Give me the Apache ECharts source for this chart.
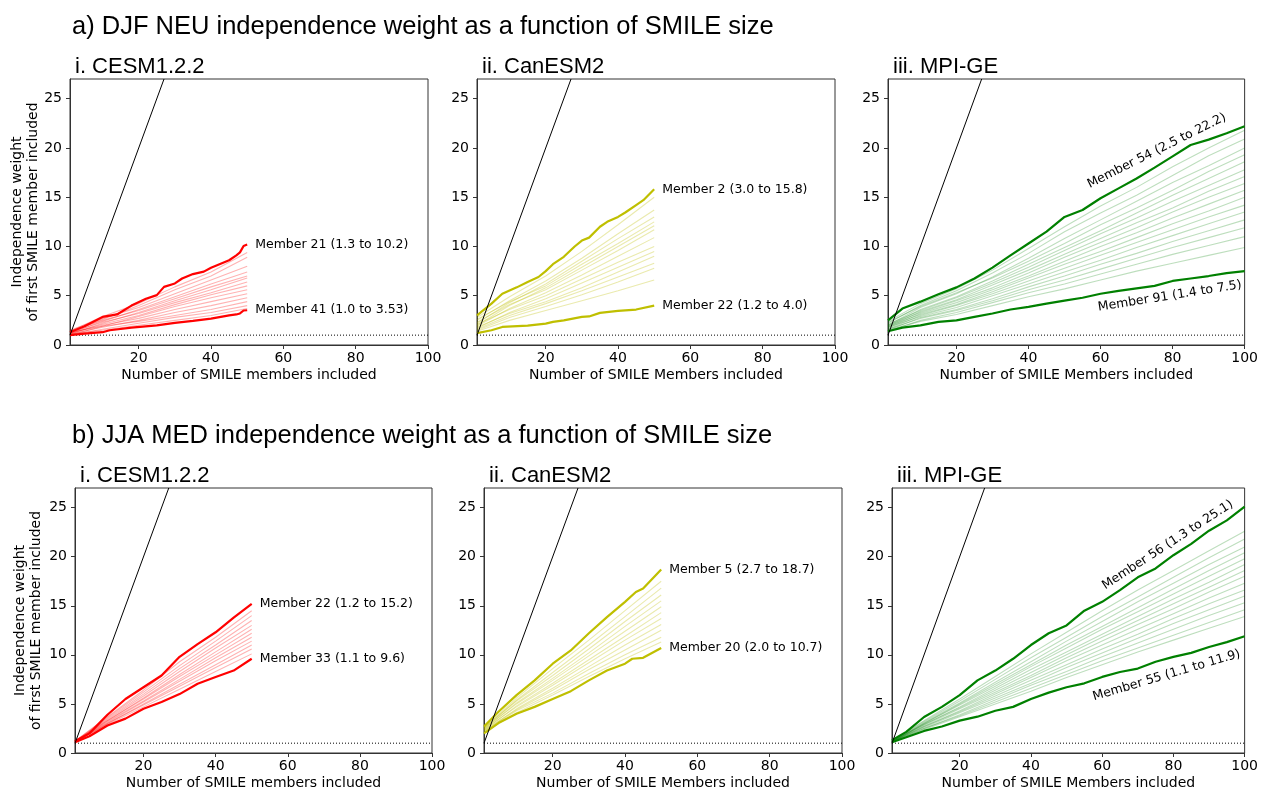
<!DOCTYPE html>
<html>
<head>
<meta charset="utf-8">
<script src="https://cdn.jsdelivr.net/npm/echarts@6/dist/echarts.min.js"></script>
<style>html,body{margin:0;padding:0;background:#fff}#c{width:1261px;height:791px}</style>
</head>
<body>
<div id="c"></div>
<script>
// ---------- DATA ----------
const rowTitles = ['a) DJF NEU independence weight as a function of SMILE size',
                   'b) JJA MED independence weight as a function of SMILE size'];
const panelTitles = ['i. CESM1.2.2', 'ii. CanESM2', 'iii. MPI-GE'];
const xNames = ['Number of SMILE members included', 'Number of SMILE Members included', 'Number of SMILE Members included'];
const yNameLines = ['Independence weight', 'of first SMILE member included'];
const xTicks = [20, 40, 60, 80, 100];
const yTicks = [0, 5, 10, 15, 20, 25];
const oneToOne = [[1, 1], [27, 27]];
const refLine = [[1, 1], [100, 1]];

const x50 = [1, 10, 20, 30, 40, 50];
const x100 = [1, 10, 20, 30, 40, 50, 60, 70, 80, 90, 100];
const x5to50 = [1, 5, 10, 15, 20, 25, 30, 35, 40, 45, 50];
const x5to100 = [1, 5, 10, 15, 20, 25, 30, 35, 40, 45, 50, 55, 60, 65, 70, 75, 80, 85, 90, 95, 100];

// a-i CESM1.2.2 DJF NEU
const aCesmThin = [
  [1.4, 2.9, 4.2, 5.9, 7.4, 9.4],
  [1.3, 2.6, 4.0, 5.6, 7.0, 8.9],
  [1.5, 2.7, 3.8, 5.2, 6.6, 8.0],
  [1.2, 2.4, 3.6, 4.9, 6.2, 7.4],
  [1.4, 2.5, 3.5, 4.7, 5.9, 7.0],
  [1.1, 2.2, 3.3, 4.5, 5.6, 6.8],
  [1.3, 2.3, 3.2, 4.3, 5.3, 6.4],
  [1.2, 2.1, 3.0, 4.1, 5.1, 6.0],
  [1.0, 1.9, 2.9, 3.9, 4.8, 5.6],
  [1.2, 2.0, 2.7, 3.6, 4.4, 5.2],
  [1.1, 1.8, 2.5, 3.3, 4.0, 4.8],
  [1.3, 1.9, 2.4, 3.0, 3.6, 4.4],
  [1.0, 1.6, 2.2, 2.8, 3.3, 4.0],
  [1.1, 1.5, 2.0, 2.5, 3.0, 3.7]
];
const aCesmM21X = [1, 5, 10, 14, 18, 22, 25, 27, 30, 32, 35, 38, 40, 43, 45, 47, 48, 49, 50];
const aCesmM21Y = [1.3, 1.9, 2.85, 3.1, 4.0, 4.7, 5.06, 5.9, 6.25, 6.75, 7.2, 7.45, 7.85, 8.3, 8.6, 9.1, 9.4, 10.05, 10.2];
const aCesmM41X = [1, 5, 10, 12, 18, 25, 30, 35, 40, 45, 47, 48, 49, 50];
const aCesmM41Y = [1.0, 1.15, 1.3, 1.5, 1.77, 2.0, 2.24, 2.45, 2.68, 3.0, 3.1, 3.2, 3.5, 3.53];

// a-ii CanESM2 DJF NEU
const aCanThin = [
  [2.8, 4.9, 7.0, 9.5, 12.2, 15.0],
  [2.5, 4.5, 6.5, 8.8, 11.3, 13.7],
  [2.2, 4.3, 6.2, 8.5, 10.8, 13.0],
  [2.6, 4.4, 6.0, 8.2, 10.3, 12.5],
  [2.0, 4.0, 5.8, 7.9, 10.0, 12.1],
  [2.3, 4.1, 5.6, 7.6, 9.6, 11.7],
  [1.9, 3.7, 5.3, 7.1, 9.0, 10.9],
  [2.1, 3.6, 5.0, 6.7, 8.4, 10.0],
  [1.7, 3.3, 4.7, 6.3, 7.9, 9.5],
  [1.8, 3.2, 4.4, 5.8, 7.4, 9.0],
  [1.6, 3.0, 4.2, 5.5, 6.9, 8.3],
  [1.5, 2.8, 3.9, 5.1, 6.4, 7.8],
  [1.4, 2.5, 3.5, 4.5, 5.5, 6.6]
];
const aCanM2X = [1, 5, 8, 12, 15, 18, 20, 22, 25, 28, 30, 32, 35, 37, 40, 42, 45, 47, 50];
const aCanM2Y = [3.0, 4.2, 5.2, 5.85, 6.4, 6.9, 7.5, 8.2, 8.95, 10.0, 10.6, 10.9, 12.0, 12.5, 13.0, 13.45, 14.2, 14.7, 15.8];
const aCanM22X = [1, 5, 8, 15, 20, 22, 25, 30, 32, 35, 40, 45, 50];
const aCanM22Y = [1.2, 1.5, 1.83, 1.97, 2.17, 2.35, 2.5, 2.85, 2.9, 3.26, 3.46, 3.6, 4.0];

// a-iii MPI-GE DJF NEU
const aMpiThin = [
  [2.4, 4.2, 5.7, 7.6, 9.8, 12.0, 14.1, 16.0, 18.1, 20.0, 21.8],
  [2.2, 4.0, 5.5, 7.3, 9.3, 11.5, 13.4, 15.2, 17.2, 19.2, 20.9],
  [2.0, 3.8, 5.2, 6.9, 8.8, 10.8, 12.7, 14.6, 16.5, 18.2, 20.0],
  [2.3, 3.9, 5.3, 6.8, 8.5, 10.3, 12.2, 13.9, 15.7, 17.6, 19.3],
  [1.9, 3.6, 4.9, 6.5, 8.2, 9.9, 11.6, 13.4, 15.2, 16.9, 18.6],
  [2.1, 3.5, 4.8, 6.3, 7.9, 9.6, 11.3, 12.9, 14.6, 16.2, 17.8],
  [1.8, 3.4, 4.6, 6.1, 7.6, 9.2, 10.8, 12.4, 13.9, 15.6, 17.1],
  [2.0, 3.3, 4.5, 5.8, 7.3, 8.9, 10.4, 11.9, 13.5, 15.0, 16.4],
  [1.7, 3.2, 4.3, 5.6, 7.0, 8.5, 10.0, 11.4, 12.9, 14.3, 15.7],
  [1.9, 3.1, 4.1, 5.4, 6.8, 8.2, 9.5, 10.9, 12.3, 13.6, 15.0],
  [1.6, 3.0, 4.0, 5.2, 6.5, 7.8, 9.1, 10.4, 11.7, 13.0, 14.2],
  [1.8, 2.9, 3.8, 5.0, 6.2, 7.4, 8.6, 9.9, 11.1, 12.3, 13.5],
  [1.5, 2.8, 3.6, 4.7, 5.9, 7.0, 8.2, 9.3, 10.5, 11.6, 12.7],
  [1.6, 2.7, 3.5, 4.5, 5.6, 6.6, 7.7, 8.8, 9.9, 10.9, 11.9],
  [1.4, 2.5, 3.3, 4.3, 5.3, 6.2, 7.2, 8.2, 9.2, 10.1, 11.0],
  [1.5, 2.4, 3.1, 4.0, 4.9, 5.7, 6.6, 7.5, 8.3, 9.1, 9.9]
];
const aMpiM54Y = [2.5, 3.7, 4.4, 5.15, 5.85, 6.75, 7.85, 9.1, 10.3, 11.5, 13.0, 13.7, 14.9, 15.9, 16.9, 18.0, 19.15, 20.3, 20.85, 21.5, 22.2];
const aMpiM91Y = [1.4, 1.77, 2.0, 2.35, 2.5, 2.85, 3.2, 3.6, 3.87, 4.2, 4.5, 4.8, 5.2, 5.5, 5.75, 6.0, 6.5, 6.75, 7.0, 7.3, 7.5];

// b-i CESM1.2.2 JJA MED
const bCesmThin = [
  [1.2, 3.7, 6.4, 9.3, 11.8, 14.5],
  [1.2, 3.6, 6.2, 8.9, 11.4, 14.0],
  [1.1, 3.5, 6.0, 8.6, 11.0, 13.5],
  [1.2, 3.4, 5.8, 8.3, 10.7, 13.0],
  [1.1, 3.3, 5.6, 8.0, 10.3, 12.6],
  [1.2, 3.3, 5.5, 7.8, 10.0, 12.2],
  [1.1, 3.2, 5.3, 7.5, 9.7, 11.8],
  [1.2, 3.1, 5.2, 7.3, 9.4, 11.4],
  [1.1, 3.0, 5.0, 7.0, 9.0, 11.0],
  [1.1, 3.0, 4.9, 6.8, 8.7, 10.6],
  [1.1, 2.9, 4.7, 6.5, 8.3, 10.1]
];
const bCesmM22Y = [1.2, 2.0, 3.9, 5.5, 6.7, 7.9, 9.8, 11.1, 12.3, 13.8, 15.2];
const bCesmM33Y = [1.1, 1.7, 2.8, 3.5, 4.5, 5.2, 6.0, 7.05, 7.75, 8.4, 9.6];

// b-ii CanESM2 JJA MED
const bCanThin = [
  [2.6, 5.6, 8.6, 11.5, 14.5, 17.5],
  [2.5, 5.4, 8.2, 11.0, 13.9, 16.8],
  [2.6, 5.3, 7.9, 10.6, 13.4, 16.1],
  [2.4, 5.1, 7.6, 10.2, 12.9, 15.5],
  [2.5, 5.0, 7.4, 9.9, 12.4, 14.9],
  [2.3, 4.8, 7.1, 9.5, 11.9, 14.3],
  [2.4, 4.7, 6.9, 9.2, 11.5, 13.7],
  [2.2, 4.5, 6.6, 8.8, 11.0, 13.1],
  [2.3, 4.4, 6.4, 8.5, 10.5, 12.5],
  [2.2, 4.3, 6.1, 8.1, 10.0, 11.8],
  [2.1, 4.1, 5.9, 7.8, 9.6, 11.3]
];
const bCanM5X = [1, 5, 10, 15, 20, 25, 30, 35, 40, 43, 45, 50];
const bCanM5Y = [2.7, 4.2, 5.9, 7.4, 9.1, 10.45, 12.2, 13.85, 15.4, 16.4, 16.75, 18.7];
const bCanM20X = [1, 5, 10, 15, 20, 25, 30, 35, 40, 42, 45, 50];
const bCanM20Y = [2.0, 3.05, 4.0, 4.7, 5.5, 6.3, 7.4, 8.4, 9.1, 9.6, 9.7, 10.7];

// b-iii MPI-GE JJA MED
const bMpiThin = [
  [1.2, 3.3, 5.5, 7.8, 10.1, 12.3, 14.5, 16.6, 18.6, 20.6, 22.6],
  [1.2, 3.2, 5.3, 7.5, 9.7, 11.8, 13.9, 15.9, 17.9, 19.9, 21.8],
  [1.1, 3.1, 5.1, 7.2, 9.3, 11.4, 13.4, 15.4, 17.3, 19.2, 21.0],
  [1.2, 3.0, 5.0, 7.0, 9.0, 11.0, 12.9, 14.8, 16.7, 18.6, 20.4],
  [1.1, 3.0, 4.9, 6.8, 8.8, 10.7, 12.6, 14.4, 16.2, 18.0, 19.8],
  [1.2, 2.9, 4.7, 6.6, 8.5, 10.3, 12.1, 13.9, 15.7, 17.4, 19.2],
  [1.1, 2.9, 4.6, 6.4, 8.2, 10.0, 11.8, 13.5, 15.2, 16.9, 18.6],
  [1.2, 2.8, 4.5, 6.2, 7.9, 9.7, 11.4, 13.1, 14.7, 16.4, 18.0],
  [1.1, 2.7, 4.3, 6.0, 7.7, 9.4, 11.0, 12.6, 14.2, 15.8, 17.3],
  [1.1, 2.7, 4.2, 5.8, 7.4, 9.0, 10.6, 12.1, 13.7, 15.2, 16.6],
  [1.2, 2.6, 4.1, 5.6, 7.1, 8.7, 10.2, 11.7, 13.2, 14.6, 16.0],
  [1.1, 2.5, 3.9, 5.4, 6.9, 8.3, 9.8, 11.2, 12.6, 14.0, 15.3],
  [1.1, 2.5, 3.8, 5.2, 6.6, 8.0, 9.4, 10.7, 12.0, 13.3, 14.6],
  [1.1, 2.4, 3.7, 5.0, 6.3, 7.7, 9.0, 10.3, 11.5, 12.7, 13.9]
];
const bMpiM56Y = [1.3, 2.15, 3.67, 4.7, 5.9, 7.4, 8.4, 9.6, 11.0, 12.2, 13.0, 14.5, 15.4, 16.6, 17.9, 18.8, 20.15, 21.3, 22.65, 23.7, 25.1];
const bMpiM55Y = [1.1, 1.6, 2.25, 2.7, 3.3, 3.7, 4.3, 4.7, 5.5, 6.15, 6.7, 7.1, 7.75, 8.25, 8.6, 9.3, 9.8, 10.2, 10.8, 11.3, 11.9];

// ---------- LAYOUT / STYLE ----------
const RED = '#ff0000', YEL = '#bfbf00', GRN = '#008000';
const thinCol = {[RED]: 'rgba(255,0,0,0.30)', [YEL]: 'rgba(191,191,0,0.32)', [GRN]: 'rgba(0,128,0,0.26)'};
const grids = [
  {left: 70, top: 79, width: 358, height: 266},
  {left: 477, top: 79, width: 358, height: 266},
  {left: 888, top: 79, width: 357, height: 266},
  {left: 75, top: 488, width: 357, height: 265},
  {left: 484, top: 488, width: 358, height: 265},
  {left: 892, top: 488, width: 357, height: 265}
];
const pair = (xs, ys) => xs.map((x, k) => [x, ys[k]]);

const panels = [
  {color: RED, thinX: x50, thin: aCesmThin, bold: [
    {d: pair(aCesmM21X, aCesmM21Y), label: 'Member 21 (1.3 to 10.2)'},
    {d: pair(aCesmM41X, aCesmM41Y), label: 'Member 41 (1.0 to 3.53)'}]},
  {color: YEL, thinX: x50, thin: aCanThin, bold: [
    {d: pair(aCanM2X, aCanM2Y), label: 'Member 2 (3.0 to 15.8)'},
    {d: pair(aCanM22X, aCanM22Y), label: 'Member 22 (1.2 to 4.0)'}]},
  {color: GRN, thinX: x100, thin: aMpiThin, bold: [
    {d: pair(x5to100, aMpiM54Y), rot: {text: 'Member 54 (2.5 to 22.2)', at: [75.6, 19.7], deg: 26.5}},
    {d: pair(x5to100, aMpiM91Y), rot: {text: 'Member 91 (1.4 to 7.5)', at: [79.2, 4.95], deg: 9}}]},
  {color: RED, thinX: x50, thin: bCesmThin, bold: [
    {d: pair(x5to50, bCesmM22Y), label: 'Member 22 (1.2 to 15.2)'},
    {d: pair(x5to50, bCesmM33Y), label: 'Member 33 (1.1 to 9.6)'}]},
  {color: YEL, thinX: x50, thin: bCanThin, bold: [
    {d: pair(bCanM5X, bCanM5Y), label: 'Member 5 (2.7 to 18.7)'},
    {d: pair(bCanM20X, bCanM20Y), label: 'Member 20 (2.0 to 10.7)'}]},
  {color: GRN, thinX: x100, thin: bMpiThin, bold: [
    {d: pair(x5to100, bMpiM56Y), rot: {text: 'Member 56 (1.3 to 25.1)', at: [78.4, 21.2], deg: 33}},
    {d: pair(x5to100, bMpiM55Y), rot: {text: 'Member 55 (1.1 to 11.9)', at: [78.1, 7.9], deg: 16.5}}]}
];

const FONT = 'DejaVu Sans';
const TFONT = 'Liberation Sans';
const chart = echarts.init(document.getElementById('c'), null, {renderer: 'canvas'});

const title = [
  {text: rowTitles[0], left: 67, top: 9, textStyle: {fontFamily: TFONT, fontSize: 25.5, fontWeight: 'normal', color: '#000'}},
  {text: rowTitles[1], left: 67, top: 418, textStyle: {fontFamily: TFONT, fontSize: 25.5, fontWeight: 'normal', color: '#000'}}
];
grids.forEach((g, i) => {
  title.push({text: panelTitles[i % 3], left: g.left, top: g.top - 28,
    textStyle: {fontFamily: TFONT, fontSize: 22, fontWeight: 'normal', color: '#000'}});
});

const xAxis = grids.map((g, i) => ({
  gridIndex: i, type: 'value', min: 1, max: 100,
  name: xNames[i % 3], nameLocation: 'middle', nameGap: 23,
  nameTextStyle: {fontFamily: FONT, fontSize: 14, color: '#000'},
  axisLine: {show: true, lineStyle: {color: '#333', width: 1}},
  axisTick: {show: true, length: 4, customValues: xTicks, lineStyle: {color: '#333'}},
  axisLabel: {customValues: xTicks, margin: 6, fontFamily: FONT, fontSize: 14, color: '#000'},
  splitLine: {show: false}
}));
const yAxis = grids.map((g, i) => ({
  gridIndex: i, type: 'value', min: 0, max: 27,
  axisLine: {show: true, lineStyle: {color: '#333', width: 1}},
  axisTick: {show: true, length: 4, customValues: yTicks, lineStyle: {color: '#333'}},
  axisLabel: {customValues: yTicks, margin: 8, fontFamily: FONT, fontSize: 14, color: '#000'},
  splitLine: {show: false}
}));

const series = [];
panels.forEach((p, i) => {
  p.thin.forEach(vals => {
    series.push({type: 'line', xAxisIndex: i, yAxisIndex: i, data: pair(p.thinX, vals),
      symbol: 'none', silent: true, z: 2, lineStyle: {width: 1.1, color: thinCol[p.color]}});
  });
  p.bold.forEach(b => {
    const s = {type: 'line', xAxisIndex: i, yAxisIndex: i, data: b.d,
      symbol: 'none', silent: true, z: 4, lineStyle: {width: 2.2, color: p.color}};
    if (b.label) {
      s.endLabel = {show: true, formatter: b.label, distance: 8,
        fontFamily: FONT, fontSize: 12.5, color: '#000'};
    }
    series.push(s);
  });
  series.push({type: 'line', xAxisIndex: i, yAxisIndex: i, data: oneToOne, symbol: 'none',
    silent: true, z: 5, lineStyle: {width: 1, color: '#000'}});
  series.push({type: 'line', xAxisIndex: i, yAxisIndex: i, data: refLine, symbol: 'none',
    silent: true, z: 3, lineStyle: {width: 1, color: '#000', type: [1, 2]}});
});

chart.setOption({
  animation: false,
  backgroundColor: '#fff',
  title: title,
  grid: grids.map(g => Object.assign({show: true, borderColor: '#333', borderWidth: 1, containLabel: false}, g)),
  xAxis: xAxis,
  yAxis: yAxis,
  series: series
});

// graphic texts: y-axis names and rotated annotations
const graphic = [];
[0, 3].forEach(gi => {
  const g = grids[gi];
  const cy = g.top + g.height / 2;
  const xs = gi === 0 ? [17, 33] : [20, 36];
  yNameLines.forEach((t, k) => {
    graphic.push({type: 'text', x: xs[k], y: cy, rotation: Math.PI / 2,
      style: {text: t, fontFamily: FONT, fontSize: 14, fill: '#000', align: 'center', verticalAlign: 'middle'}});
  });
});
panels.forEach((p, i) => {
  p.bold.forEach(b => {
    if (b.rot) {
      const pt = chart.convertToPixel({gridIndex: i}, b.rot.at);
      graphic.push({type: 'text', x: pt[0], y: pt[1], rotation: b.rot.deg * Math.PI / 180, z: 10,
        style: {text: b.rot.text, fontFamily: FONT, fontSize: 12.5, fill: '#000', align: 'center', verticalAlign: 'middle'}});
    }
  });
});
chart.setOption({graphic: graphic});
</script>
</body>
</html>
